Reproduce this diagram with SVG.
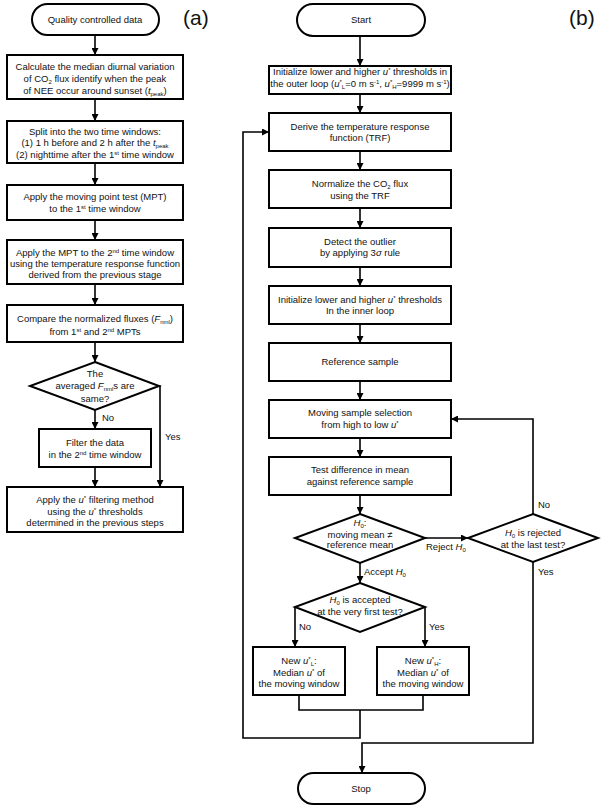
<svg xmlns="http://www.w3.org/2000/svg" width="601" height="809" viewBox="0 0 601 809">
<defs>
<marker id="ah" viewBox="0 0 8 8" refX="8" refY="4" markerWidth="7" markerHeight="7" markerUnits="userSpaceOnUse" orient="auto">
<path d="M0,0 L8,4 L0,8 z" fill="#000"/>
</marker>
</defs>
<style>
.b{fill:#fff;stroke:#000;stroke-width:2}
.c{fill:none;stroke:#000;stroke-width:1.6}
.a{marker-end:url(#ah)}
text{font-family:"Liberation Sans","DejaVu Sans",sans-serif;font-size:9.5px;fill:#111;text-anchor:middle}
.l{text-anchor:start}
.i{font-style:italic}
.sub{font-size:6px;baseline-shift:-2px}
.sup{font-size:6px;baseline-shift:3px}
.big{font-size:21px;text-anchor:start}
</style>
<rect width="601" height="809" fill="#fff"/>
<g id="connectors">
<path class="c a" d="M95,35 V55"/>
<path class="c a" d="M95,99 V121"/>
<path class="c a" d="M95,163 V185"/>
<path class="c a" d="M95,220 V240"/>
<path class="c a" d="M95,284 V305"/>
<path class="c a" d="M95,342 V362"/>
<path class="c a" d="M95,410 V429"/>
<path class="c a" d="M95,467 V487"/>
<path class="c a" d="M159,386 H160 V487"/>
<path class="c a" d="M360,36 V66"/>
<path class="c a" d="M360,94 V113"/>
<path class="c a" d="M360,151 V170"/>
<path class="c a" d="M360,208 V228"/>
<path class="c a" d="M360,267 V286"/>
<path class="c a" d="M360,324 V343"/>
<path class="c a" d="M360,381 V400"/>
<path class="c a" d="M360,438 V457"/>
<path class="c a" d="M360,495 V514"/>
<path class="c a" d="M360,563 V583"/>
<path class="c a" d="M425,538 H468"/>
<path class="c a" d="M533,514 V419 H451"/>
<path class="c a" d="M533,562 V743 H362 V773"/>
<path class="c a" d="M295,607 V647"/>
<path class="c a" d="M425,607 V647"/>
<path class="c" d="M299,695 V710 H423 V695"/>
<path class="c a" d="M360,710 V738 H243 V132 H269"/>
</g>
<g id="label-a"><text class="big" x="183" y="25">(a)</text></g>
<g id="label-b"><text class="big" x="569" y="25">(b)</text></g>
<g id="qcd">
<rect class="b" x="32" y="4" width="127" height="31" rx="15.5"/>
<text x="95" y="23">Quality controlled data</text>
</g>
<g id="a1">
<rect class="b" x="7" y="55" width="176" height="44"/>
<text x="95" y="70">Calculate the median diurnal variation</text>
<text x="95" y="82">of CO<tspan class="sub">2</tspan> flux identify when the peak</text>
<text x="95" y="94">of NEE occur around sunset (<tspan class="i">t</tspan><tspan class="sub">peak</tspan>)</text>
</g>
<g id="a2">
<rect class="b" x="7" y="121" width="176" height="42"/>
<text x="95" y="135">Split into the two time windows:</text>
<text x="95" y="146">(1) 1 h before and 2 h after the <tspan class="i">t</tspan><tspan class="sub">peak</tspan></text>
<text x="95" y="158">(2) nighttime after the 1<tspan class="sup">st</tspan> time window</text>
</g>
<g id="a3">
<rect class="b" x="7" y="185" width="176" height="35"/>
<text x="95" y="200">Apply the moving point test (MPT)</text>
<text x="95" y="212">to the 1<tspan class="sup">st</tspan> time window</text>
</g>
<g id="a4">
<rect class="b" x="7" y="240" width="176" height="44"/>
<text x="95" y="256">Apply the MPT  to the 2<tspan class="sup">nd</tspan> time window</text>
<text x="95" y="267">using the temperature response function</text>
<text x="95" y="278">derived from the previous stage</text>
</g>
<g id="a5">
<rect class="b" x="7" y="305" width="176" height="37"/>
<text x="95" y="322">Compare the normalized fluxes (<tspan class="i">F</tspan><tspan class="sub">nml</tspan>)</text>
<text x="95" y="335">from 1<tspan class="sup">st</tspan> and 2<tspan class="sup">nd</tspan> MPTs</text>
</g>
<g id="a6">
<polygon class="b" points="95,362 159,386 95,410 30,386"/>
<text x="95" y="377">The</text>
<text x="95" y="389">averaged <tspan class="i">F</tspan><tspan class="sub">nml</tspan>s are</text>
<text x="95" y="402">same?</text>
</g>
<g id="a-no"><text class="l" x="102" y="421">No</text></g>
<g id="a-yes"><text class="l" x="165" y="440">Yes</text></g>
<g id="a7">
<rect class="b" x="39" y="429" width="112" height="38"/>
<text x="95" y="446">Filter the data</text>
<text x="95" y="458">in the 2<tspan class="sup">nd</tspan> time window</text>
</g>
<g id="a8">
<rect class="b" x="7" y="487" width="176" height="45"/>
<text x="95" y="503">Apply the <tspan class="i">u</tspan><tspan class="sup">*</tspan> filtering method</text>
<text x="95" y="515">using the <tspan class="i">u</tspan><tspan class="sup">*</tspan> thresholds</text>
<text x="95" y="526">determined in the previous steps</text>
</g>
<g id="start">
<rect class="b" x="297" y="4" width="128" height="32" rx="16"/>
<text x="361" y="23">Start</text>
</g>
<g id="b1">
<rect class="b" x="269" y="66" width="182" height="28"/>
<text x="360" y="75">Initialize lower and higher <tspan class="i">u</tspan><tspan class="sup">*</tspan> thresholds in</text>
<text x="360" y="87">the outer loop (<tspan class="i">u</tspan><tspan class="sup">*</tspan><tspan class="sub">L</tspan>=0 m s<tspan class="sup">-1</tspan>, <tspan class="i">u</tspan><tspan class="sup">*</tspan><tspan class="sub">H</tspan>=9999 m s<tspan class="sup">-1</tspan>)</text>
</g>
<g id="b2">
<rect class="b" x="269" y="113" width="182" height="38"/>
<text x="360" y="130">Derive the temperature response</text>
<text x="360" y="141">function (TRF)</text>
</g>
<g id="b3">
<rect class="b" x="269" y="170" width="182" height="38"/>
<text x="360" y="187">Normalize the CO<tspan class="sub">2</tspan> flux</text>
<text x="360" y="199">using the TRF</text>
</g>
<g id="b4">
<rect class="b" x="269" y="228" width="182" height="39"/>
<text x="360" y="245">Detect the outlier</text>
<text x="360" y="256">by applying 3<tspan class="i">σ</tspan> rule</text>
</g>
<g id="b5">
<rect class="b" x="269" y="286" width="182" height="38"/>
<text x="360" y="303">Initialize lower and higher <tspan class="i">u</tspan><tspan class="sup">*</tspan> thresholds</text>
<text x="360" y="314">In the inner loop</text>
</g>
<g id="b6">
<rect class="b" x="269" y="343" width="182" height="38"/>
<text x="360" y="365">Reference sample</text>
</g>
<g id="b7">
<rect class="b" x="269" y="400" width="182" height="38"/>
<text x="360" y="416">Moving sample selection</text>
<text x="360" y="428">from high to low <tspan class="i">u</tspan><tspan class="sup">*</tspan></text>
</g>
<g id="b8">
<rect class="b" x="269" y="457" width="182" height="38"/>
<text x="360" y="473">Test difference in mean</text>
<text x="360" y="485">against reference sample</text>
</g>
<g id="d1">
<polygon class="b" points="360,514 425,538 360,563 295,538"/>
<text x="360" y="526"><tspan class="i">H</tspan><tspan class="sub">0</tspan>:</text>
<text x="360" y="538">moving mean ≠</text>
<text x="360" y="548">reference mean</text>
</g>
<g id="d2">
<polygon class="b" points="533,514 598,538 533,562 468,538"/>
<text x="533" y="536"><tspan class="i">H</tspan><tspan class="sub">0</tspan> is rejected</text>
<text x="533" y="548">at the last test?</text>
</g>
<g id="d3">
<polygon class="b" points="360,583 425,607 360,632 295,607"/>
<text x="360" y="603"><tspan class="i">H</tspan><tspan class="sub">0</tspan> is accepted</text>
<text x="360" y="615">at the very first test?</text>
</g>
<g id="b-labels">
<text class="l" x="426" y="550">Reject <tspan class="i">H</tspan><tspan class="sub">0</tspan></text>
<text class="l" x="538" y="508">No</text>
<text class="l" x="538" y="575">Yes</text>
<text class="l" x="364" y="575">Accept <tspan class="i">H</tspan><tspan class="sub">0</tspan></text>
<text class="l" x="299" y="630">No</text>
<text class="l" x="429" y="630">Yes</text>
</g>
<g id="b9">
<rect class="b" x="253" y="647" width="92" height="48"/>
<text x="299" y="664">New <tspan class="i">u</tspan><tspan class="sup">*</tspan><tspan class="sub">L</tspan>:</text>
<text x="299" y="676">Median <tspan class="i">u</tspan><tspan class="sup">*</tspan> of</text>
<text x="299" y="687">the moving window</text>
</g>
<g id="b10">
<rect class="b" x="377" y="647" width="92" height="48"/>
<text x="423" y="664">New <tspan class="i">u</tspan><tspan class="sup">*</tspan><tspan class="sub">H</tspan>:</text>
<text x="423" y="676">Median <tspan class="i">u</tspan><tspan class="sup">*</tspan> of</text>
<text x="423" y="687">the moving window</text>
</g>
<g id="stop">
<rect class="b" x="298" y="773" width="127" height="31" rx="15.5"/>
<text x="361" y="792">Stop</text>
</g>
</svg>
